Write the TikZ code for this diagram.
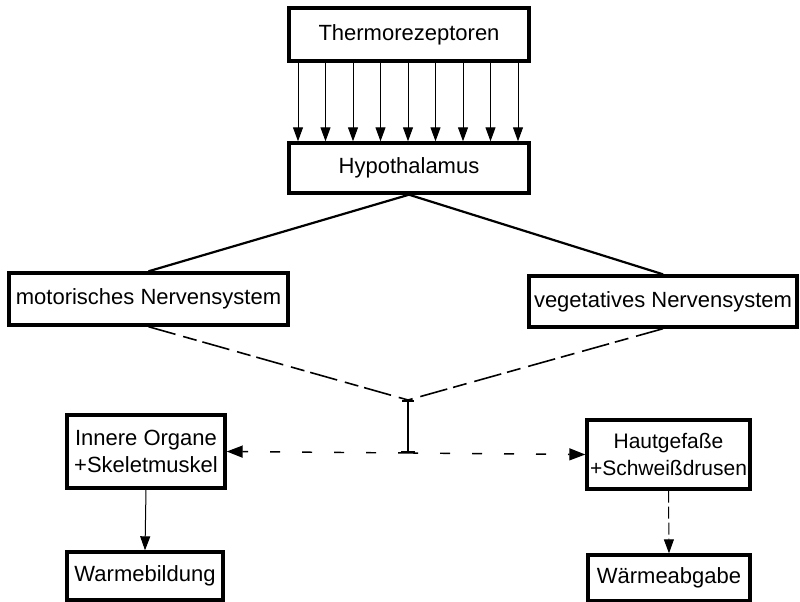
\documentclass[tikz,border=0pt]{standalone}
\usepackage{fontspec}
\setmainfont{Liberation Sans}
\usetikzlibrary{arrows.meta}
\begin{document}
\begin{tikzpicture}[x=1pt,y=-1pt,
  box/.style={draw,line width=3.4pt,inner sep=0pt,font=\fontsize{22}{27}\selectfont,align=center},
  conn/.style={line width=2.2pt},
  thin arrow/.style={line width=1pt,-{Triangle[length=14pt,width=10pt]}},
  dashline/.style={line width=1.6pt,dash pattern=on 28pt off 8pt on 14pt off 6pt},
  sparse/.style={line width=1.4pt,dash pattern=on 10pt off 22pt}]
\useasboundingbox (0,0) rectangle (800,602);
\node[box,minimum width=240pt,minimum height=53pt] (thermo) at (409,34.5) {Thermorezeptoren};
\node[box,minimum width=240pt,minimum height=50pt] (hypo) at (409,168) {Hypothalamus};
\node[box,minimum width=279pt,minimum height=52pt] (motor) at (148.5,299) {motorisches Nervensystem};
\node[box,minimum width=268pt,minimum height=51pt] (veg) at (663,301.5) {vegetatives Nervensystem};
\node[box,minimum width=158pt,minimum height=73pt] (innere) at (146,451.5) {Innere Organe\\+Skeletmuskel};
\node[box,minimum width=156pt,minimum height=48pt] (wbild) at (145,576) {Warmebildung};
\node[box,minimum width=163pt,minimum height=69pt,font=\fontsize{21}{27}\selectfont] (haut) at (668.5,454.5) {Hautgefaße\\+Schweißdrusen};
\node[box,minimum width=162pt,minimum height=46pt] (wabg) at (669,578) {Wärmeabgabe};
\coordinate (j) at (408,400);
\coordinate (k) at (408,453);
\foreach \i in {0,...,8}{
  \draw[thin arrow] (thermo.south -| {298+\i*27.5},0) -- (hypo.north -| {298+\i*27.5},0);
}
\draw[conn] (hypo.south) -- (motor.north);
\draw[conn] (hypo.south) -- (veg.north);
\draw[dashline] (motor.south) -- (j);
\draw[dashline] (veg.south) -- (j);
\draw[line width=2pt,{Bar[width=12pt]}-{Bar[width=14pt]}] (j) -- (k);
\draw[sparse,-{Triangle[length=16pt,width=12pt]}] (k) -- (innere.east);
\draw[sparse,-{Triangle[length=16pt,width=12pt]}] (k) -- (haut.west);
\draw[thin arrow] (innere.south) -- (wbild.north);
\draw[thin arrow,dash pattern=on 12pt off 4pt] (haut.south) -- (wabg.north);
\end{tikzpicture}
\end{document}
